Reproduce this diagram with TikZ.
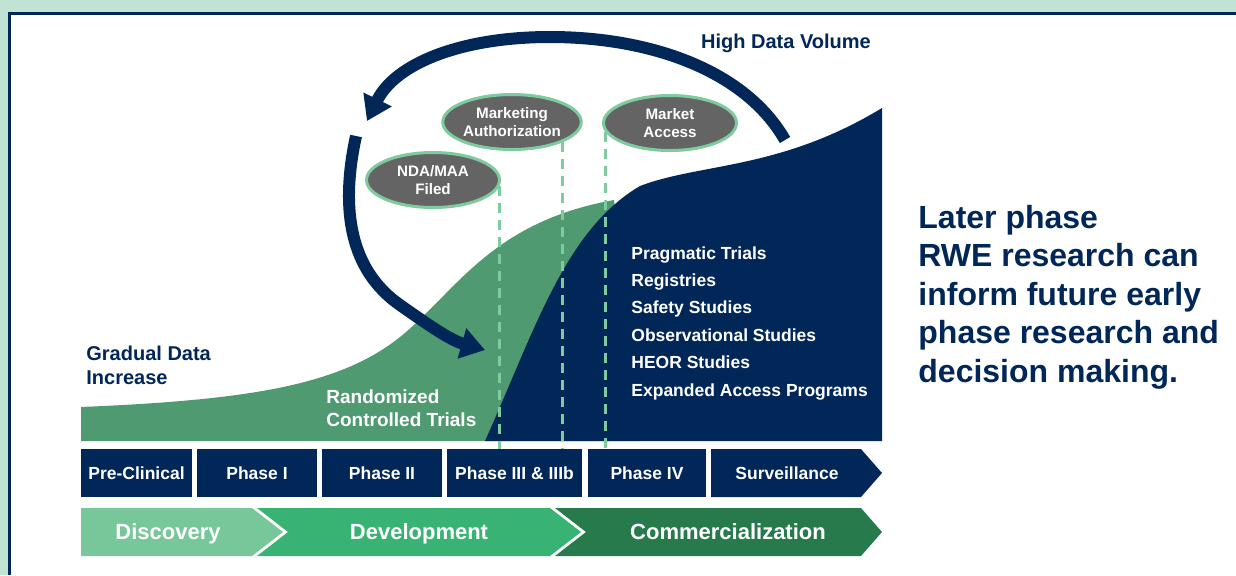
\documentclass[tikz,border=0pt]{standalone}
\usepackage{fontspec}
\setmainfont{Liberation Sans}
\usepackage{xcolor}
\definecolor{navy}{RGB}{1,39,89}
\definecolor{rctgreen}{RGB}{79,154,112}
\definecolor{panelbg}{RGB}{193,227,211}
\definecolor{ovalgray}{RGB}{100,100,100}
\definecolor{mint}{RGB}{125,203,158}
\definecolor{discgreen}{RGB}{119,199,154}
\definecolor{devgreen}{RGB}{57,179,116}
\definecolor{commgreen}{RGB}{38,122,76}
\usetikzlibrary{positioning}
\usetikzlibrary{shapes.geometric}
\usetikzlibrary{arrows.meta}

\tikzset{
  phasebox/.style={fill=navy, text=white, minimum height=24pt, inner sep=0pt,
    text height=6.3pt, text depth=0pt,
    font=\bfseries\fontsize{8.75}{10}\selectfont},
  stagetext/.style={text=white, inner sep=0pt, text height=7.9pt, text depth=0pt,
    font=\bfseries\fontsize{11}{13}\selectfont},
  oval/.style={ellipse, fill=ovalgray, draw=mint, line width=1.5pt, text=white, align=center,
    minimum width=66.5pt, minimum height=27.5pt, inner sep=0pt,
    font=\bfseries\fontsize{7.6}{9}\selectfont},
  guide/.style={mint, line width=1.4pt, dash pattern=on 5pt off 3.5pt},
  loop/.style={navy, line width=6pt, -{Triangle[length=12pt,width=15pt]}},
}

\begin{document}
\begin{tikzpicture}[x=0.5pt, y=-0.5pt]
\useasboundingbox (0,0) rectangle (1236,575);
% panel
\fill[panelbg] (0,0) rectangle (1236,575);
\fill[white] (8,12) rectangle (1236,575);
\draw[navy, line width=1.5pt] (9.5,575) -- (9.5,13.5) -- (1236,13.5);

% data volume areas
\fill[rctgreen] (81,441) -- (81,407) .. controls (250,400) and (340,385) .. (400,337)
  .. controls (455,293) and (490,222) .. (614,200) -- (640,441) -- cycle;
\fill[navy] (485,441) .. controls (535,330) and (565,230) .. (640,186)
  .. controls (700,163) and (780,170) .. (882,108) -- (882,441) -- cycle;

% milestones
\node[oval] (nda) at (433,180) {NDA/MAA\\Filed};
\node[oval] (mauth) at (512,122) {Marketing\\Authorization};
\node[oval] (macc) at (670,123) {Market\\Access};

\coordinate (barline) at (0,454);
\draw[guide] (nda.-5) -- (nda.-5 |- barline);
\draw[guide] (mauth.-22) -- (mauth.-22 |- barline);
\draw[guide] (macc.-172) -- (macc.-172 |- barline);

% feedback loop
\coordinate (topstart) at (785,140);
\coordinate (toptip) at (367,121);
\coordinate (lowstart) at (356,136);
\coordinate (lowtip) at (485,350);
\draw[loop] (topstart) .. controls (745,70) and (650,37) .. (550,37)
  .. controls (460,37) and (395,64) .. (toptip);
\draw[loop] (lowstart) .. controls (340,210) and (350,270) .. (400,305)
  .. controls (430,326) and (450,340) .. (lowtip);

% labels
\node[text=navy, font=\bfseries\fontsize{10}{12}\selectfont] (highvol) at (786,43) {High Data Volume};
\node[anchor=west, align=left, inner sep=0pt, text=navy, font=\bfseries\fontsize{10}{12}\selectfont]
  (gradual) at (86,365) {Gradual Data\\Increase};
\node[anchor=west, align=left, inner sep=0pt, text=white, font=\bfseries\fontsize{9.5}{11.5}\selectfont]
  (rct) at (326,408.5) {Randomized\\Controlled Trials};
\node[anchor=west, align=left, inner sep=0pt, text=white, font=\bfseries\fontsize{8.75}{13.7}\selectfont]
  (rwelist) at (631,323) {Pragmatic Trials\\Registries\\Safety Studies\\Observational Studies\\HEOR Studies\\Expanded Access Programs};
\node[anchor=west, align=left, inner sep=0pt, text=navy, font=\bfseries\fontsize{16}{19.25}\selectfont]
  (inform) at (918,297) {Later phase\\RWE research can\\inform future early\\phase research and\\decision making.};

% phases
\node[phasebox, minimum width=55.5pt] (preclin) at (136.5,473) {Pre-Clinical};
\node[phasebox, minimum width=60pt] (phase1) at (257,473) {Phase I};
\node[phasebox, minimum width=60pt] (phase2) at (382,473) {Phase II};
\node[phasebox, minimum width=67.5pt] (phase3) at (514.5,473) {Phase III \& IIIb};
\node[phasebox, minimum width=59pt] (phase4) at (647,473) {Phase IV};
\fill[navy] (711,449) -- (861,449) -- (882,473) -- (861,497) -- (711,497) -- cycle;
\node[phasebox, fill=none] (surv) at (787,473) {Surveillance};

% stages
\fill[discgreen] (81,508) -- (252,508) -- (283,532) -- (252,556) -- (81,556) -- cycle;
\fill[devgreen] (257,508) -- (550,508) -- (581,532) -- (550,556) -- (257,556) -- (288,532) -- cycle;
\fill[commgreen] (555,508) -- (861,508) -- (882,532) -- (861,556) -- (555,556) -- (586,532) -- cycle;
\node[stagetext] (disc) at (168,532) {Discovery};
\node[stagetext] (dev) at (419,532) {Development};
\node[stagetext] (comm) at (728,532) {Commercialization};
\end{tikzpicture}
\end{document}
